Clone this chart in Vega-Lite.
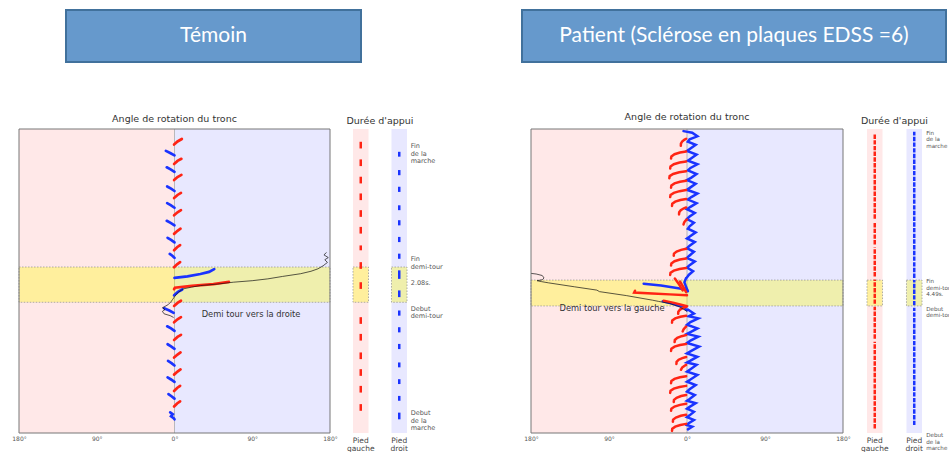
{
"$schema": "https://vega.github.io/schema/vega-lite/v6.json",
"padding": {"left": 11, "top": 9, "right": 0, "bottom": 0},
"background": "white",
"config": {"view": {"stroke": null}, "font": "DejaVu Sans"},
"datasets": {
"bg": [{"f":"G","a":-180,"a2":0,"t":0,"t2":100},{"f":"D","a":0,"a2":180,"t":0,"t2":100}],
"frame": [{"a":-180,"a2":180,"t":0,"t2":100}],
"zero": [{"a":0,"t":0,"t2":100}],
"cols": [{"f":"G","t":0,"t2":100},{"f":"D","t":0,"t2":100}],
"linesL": [
{"s":"r1","f":"G","a":-0.5,"t":94.9},{"s":"r1","f":"G","a":3.5,"t":95.9},{"s":"r1","f":"G","a":8.5,"t":96.7},
{"s":"r2","f":"G","a":-0.5,"t":88.5},{"s":"r2","f":"G","a":3.5,"t":89.5},{"s":"r2","f":"G","a":8,"t":90.2},
{"s":"r3","f":"G","a":-0.5,"t":83.2},{"s":"r3","f":"G","a":3.5,"t":84.2},{"s":"r3","f":"G","a":8,"t":84.9},
{"s":"r4","f":"G","a":-0.5,"t":77.3},{"s":"r4","f":"G","a":3.5,"t":78.3},{"s":"r4","f":"G","a":7.5,"t":79.0},
{"s":"r5","f":"G","a":-0.5,"t":71.6},{"s":"r5","f":"G","a":3.5,"t":72.6},{"s":"r5","f":"G","a":7.5,"t":73.3},
{"s":"r6","f":"G","a":-0.5,"t":65.5},{"s":"r6","f":"G","a":3.5,"t":66.5},{"s":"r6","f":"G","a":7,"t":67.2},
{"s":"r7","f":"G","a":-0.5,"t":60.1},{"s":"r7","f":"G","a":3,"t":61.1},{"s":"r7","f":"G","a":6.5,"t":61.8},
{"s":"r8","f":"G","a":-0.5,"t":54.5},{"s":"r8","f":"G","a":3,"t":55.5},{"s":"r8","f":"G","a":6.5,"t":56.2},
{"s":"r9","f":"G","a":-0.5,"t":47.3},{"s":"r9","f":"G","a":0.5,"t":47.8},{"s":"r9","f":"G","a":20,"t":48.4},{"s":"r9","f":"G","a":45,"t":49.0},{"s":"r9","f":"G","a":63,"t":49.7},
{"s":"r10","f":"G","a":-0.5,"t":41.8},{"s":"r10","f":"G","a":3.5,"t":42.8},{"s":"r10","f":"G","a":7.5,"t":43.5},
{"s":"r11","f":"G","a":-0.5,"t":36.4},{"s":"r11","f":"G","a":3.5,"t":37.4},{"s":"r11","f":"G","a":7.5,"t":38.1},
{"s":"r12","f":"G","a":-0.5,"t":30.6},{"s":"r12","f":"G","a":3.5,"t":31.6},{"s":"r12","f":"G","a":7.5,"t":32.3},
{"s":"r13","f":"G","a":-0.5,"t":24.8},{"s":"r13","f":"G","a":3.5,"t":25.8},{"s":"r13","f":"G","a":7,"t":26.5},
{"s":"r14","f":"G","a":-0.5,"t":19.2},{"s":"r14","f":"G","a":3.5,"t":20.2},{"s":"r14","f":"G","a":7,"t":20.9},
{"s":"r15","f":"G","a":-0.5,"t":13.8},{"s":"r15","f":"G","a":3,"t":14.8},{"s":"r15","f":"G","a":6.5,"t":15.5},
{"s":"r16","f":"G","a":-0.5,"t":8.7},{"s":"r16","f":"G","a":3,"t":9.7},{"s":"r16","f":"G","a":6.5,"t":10.4},
{"s":"b1","f":"D","a":-10,"t":92.8},{"s":"b1","f":"D","a":-5,"t":92.1},{"s":"b1","f":"D","a":0,"t":91.3},
{"s":"b2","f":"D","a":-9,"t":87.4},{"s":"b2","f":"D","a":-4.5,"t":86.7},{"s":"b2","f":"D","a":0,"t":85.9},
{"s":"b3","f":"D","a":-8.5,"t":81.1},{"s":"b3","f":"D","a":-4,"t":80.4},{"s":"b3","f":"D","a":0,"t":79.6},
{"s":"b4","f":"D","a":-8.5,"t":75.6},{"s":"b4","f":"D","a":-4,"t":74.9},{"s":"b4","f":"D","a":0,"t":74.1},
{"s":"b5","f":"D","a":-9,"t":69.8},{"s":"b5","f":"D","a":-4.5,"t":69.1},{"s":"b5","f":"D","a":0,"t":68.3},
{"s":"b6","f":"D","a":-8,"t":64.2},{"s":"b6","f":"D","a":-4,"t":63.5},{"s":"b6","f":"D","a":0,"t":62.7},
{"s":"b7","f":"D","a":-5.5,"t":58.9},{"s":"b7","f":"D","a":-2.5,"t":58.3},{"s":"b7","f":"D","a":0,"t":57.6},
{"s":"b8","f":"D","a":0,"t":51.0},{"s":"b8","f":"D","a":15,"t":51.5},{"s":"b8","f":"D","a":30,"t":52.3},{"s":"b8","f":"D","a":40,"t":53.0},{"s":"b8","f":"D","a":46,"t":53.9},
{"s":"b9","f":"D","a":-0.5,"t":45.3},{"s":"b9","f":"D","a":4,"t":46.4},{"s":"b9","f":"D","a":9,"t":47.2},
{"s":"b10","f":"D","a":-12,"t":41.0},{"s":"b10","f":"D","a":-6,"t":40.3},{"s":"b10","f":"D","a":-1,"t":39.5},
{"s":"b11","f":"D","a":-8.5,"t":35.1},{"s":"b11","f":"D","a":-4,"t":34.4},{"s":"b11","f":"D","a":0,"t":33.6},
{"s":"b12","f":"D","a":-8,"t":29.2},{"s":"b12","f":"D","a":-4,"t":28.5},{"s":"b12","f":"D","a":0,"t":27.7},
{"s":"b13","f":"D","a":-7.5,"t":23.7},{"s":"b13","f":"D","a":-3.5,"t":23.0},{"s":"b13","f":"D","a":0,"t":22.2},
{"s":"b14","f":"D","a":-8,"t":18.3},{"s":"b14","f":"D","a":-4,"t":17.6},{"s":"b14","f":"D","a":0,"t":16.8},
{"s":"b15","f":"D","a":-7,"t":12.8},{"s":"b15","f":"D","a":-3.5,"t":12.1},{"s":"b15","f":"D","a":0,"t":11.3},
{"s":"b16","f":"D","a":-5,"t":6.8},{"s":"b16","f":"D","a":-2,"t":6.2},{"s":"b16","f":"D","a":-4,"t":5.5},{"s":"b16","f":"D","a":-1,"t":4.9},{"s":"b16","f":"D","a":0,"t":4.5}
],
"blackL": [
{"a":-1,"t":38.0},{"a":-5,"t":38.6},{"a":-12,"t":39.2},{"a":-14,"t":40.0},{"a":-11,"t":40.6},{"a":-14,"t":41.2},{"a":-10,"t":41.8},{"a":-7,"t":42.3},{"a":-4,"t":43.2},{"a":-2,"t":44.0},{"a":0,"t":44.8},{"a":2,"t":45.6},{"a":5,"t":46.4},{"a":10,"t":47.4},{"a":20,"t":48.0},{"a":30,"t":48.5},{"a":50,"t":49.0},{"a":68,"t":49.6},{"a":90,"t":50.1},{"a":108,"t":50.7},{"a":125,"t":51.5},{"a":146,"t":52.4},{"a":158,"t":53.2},{"a":166,"t":54.0},{"a":172,"t":55.0},{"a":177,"t":56.1},{"a":174,"t":57.0},{"a":178,"t":57.7},{"a":173,"t":58.6},{"a":176,"t":59.4}
],
"linesR": [
{"s":"B1","f":"D","a":-4,"t":99.3},{"s":"B1","f":"D","a":6,"t":98.8},{"s":"B1","f":"D","a":12,"t":97.6},{"s":"B1","f":"D","a":3,"t":96.6},{"s":"B1","f":"D","a":1,"t":95.8},{"s":"B1","f":"D","a":10,"t":94.8},{"s":"B1","f":"D","a":4,"t":93.6},{"s":"B1","f":"D","a":0,"t":92.8},{"s":"B1","f":"D","a":11,"t":91.6},{"s":"B1","f":"D","a":5,"t":90.4},{"s":"B1","f":"D","a":1,"t":89.6},{"s":"B1","f":"D","a":12,"t":88.4},{"s":"B1","f":"D","a":4,"t":87.2},{"s":"B1","f":"D","a":1,"t":86.4},{"s":"B1","f":"D","a":11,"t":85.2},{"s":"B1","f":"D","a":5,"t":84.0},{"s":"B1","f":"D","a":0,"t":83.2},{"s":"B1","f":"D","a":10,"t":82.0},{"s":"B1","f":"D","a":4,"t":80.8},{"s":"B1","f":"D","a":0,"t":80.0},{"s":"B1","f":"D","a":12,"t":78.8},{"s":"B1","f":"D","a":5,"t":77.6},{"s":"B1","f":"D","a":1,"t":76.8},{"s":"B1","f":"D","a":11,"t":75.6},{"s":"B1","f":"D","a":4,"t":74.4},{"s":"B1","f":"D","a":0,"t":73.6},{"s":"B1","f":"D","a":9,"t":72.4},{"s":"B1","f":"D","a":3,"t":71.2},{"s":"B1","f":"D","a":0,"t":70.4},{"s":"B1","f":"D","a":8,"t":69.2},{"s":"B1","f":"D","a":3,"t":68.0},{"s":"B1","f":"D","a":1,"t":67.2},{"s":"B1","f":"D","a":10,"t":66.0},{"s":"B1","f":"D","a":4,"t":64.8},{"s":"B1","f":"D","a":0,"t":64.0},{"s":"B1","f":"D","a":9,"t":62.8},{"s":"B1","f":"D","a":3,"t":61.6},{"s":"B1","f":"D","a":0,"t":60.8},{"s":"B1","f":"D","a":8,"t":59.6},{"s":"B1","f":"D","a":3,"t":58.4},{"s":"B1","f":"D","a":0,"t":57.6},{"s":"B1","f":"D","a":9,"t":56.4},{"s":"B1","f":"D","a":3,"t":55.2},{"s":"B1","f":"D","a":0,"t":54.4},{"s":"B1","f":"D","a":7,"t":53.2},{"s":"B1","f":"D","a":2,"t":52.0},{"s":"B1","f":"D","a":0,"t":51.2},
{"s":"B2","f":"D","a":-50,"t":49.1},{"s":"B2","f":"D","a":-30,"t":48.5},{"s":"B2","f":"D","a":-10,"t":47.6},{"s":"B2","f":"D","a":0,"t":47.1},
{"s":"B3","f":"D","a":-1,"t":51.0},{"s":"B3","f":"D","a":-3,"t":49.6},{"s":"B3","f":"D","a":-1,"t":48.0},{"s":"B3","f":"D","a":1,"t":46.6},
{"s":"B4","f":"D","a":-28,"t":43.3},{"s":"B4","f":"D","a":-15,"t":42.4},{"s":"B4","f":"D","a":-5,"t":41.5},{"s":"B4","f":"D","a":0,"t":40.4},
{"s":"B5","f":"D","a":1,"t":40.6},{"s":"B5","f":"D","a":8,"t":39.3},{"s":"B5","f":"D","a":2,"t":38.4},{"s":"B5","f":"D","a":13,"t":37.7},{"s":"B5","f":"D","a":4,"t":36.5},{"s":"B5","f":"D","a":0,"t":35.6},{"s":"B5","f":"D","a":12,"t":34.4},{"s":"B5","f":"D","a":4,"t":33.2},{"s":"B5","f":"D","a":0,"t":32.6},{"s":"B5","f":"D","a":13,"t":31.7},{"s":"B5","f":"D","a":4,"t":30.4},{"s":"B5","f":"D","a":0,"t":29.6},{"s":"B5","f":"D","a":14,"t":28.4},{"s":"B5","f":"D","a":5,"t":27.0},{"s":"B5","f":"D","a":0,"t":26.2},{"s":"B5","f":"D","a":12,"t":25.1},{"s":"B5","f":"D","a":4,"t":23.8},{"s":"B5","f":"D","a":0,"t":23.2},{"s":"B5","f":"D","a":11,"t":22.4},{"s":"B5","f":"D","a":4,"t":21.0},{"s":"B5","f":"D","a":0,"t":20.2},{"s":"B5","f":"D","a":12,"t":19.1},{"s":"B5","f":"D","a":4,"t":17.6},{"s":"B5","f":"D","a":0,"t":16.9},{"s":"B5","f":"D","a":10,"t":15.8},{"s":"B5","f":"D","a":3,"t":14.4},{"s":"B5","f":"D","a":0,"t":13.6},{"s":"B5","f":"D","a":9,"t":12.5},{"s":"B5","f":"D","a":3,"t":11.2},{"s":"B5","f":"D","a":0,"t":10.6},{"s":"B5","f":"D","a":10,"t":9.8},{"s":"B5","f":"D","a":3,"t":8.6},{"s":"B5","f":"D","a":0,"t":8.0},{"s":"B5","f":"D","a":8,"t":7.0},{"s":"B5","f":"D","a":3,"t":5.8},{"s":"B5","f":"D","a":0,"t":5.2},{"s":"B5","f":"D","a":8,"t":4.3},{"s":"B5","f":"D","a":2,"t":3.2},{"s":"B5","f":"D","a":0,"t":2.6},{"s":"B5","f":"D","a":6,"t":2.1},{"s":"B5","f":"D","a":1,"t":1.2},
{"s":"h1","f":"G","a":-1,"t":96.8},{"s":"h1","f":"G","a":-3.2,"t":96.45},{"s":"h1","f":"G","a":-5.6,"t":95.9},{"s":"h1","f":"G","a":-7,"t":95.2},{"s":"h1","f":"G","a":-7.1,"t":94.5},
{"s":"h2","f":"G","a":-1,"t":92.6},{"s":"h2","f":"G","a":-8.1,"t":92.25},{"s":"h2","f":"G","a":-14.4,"t":91.7},{"s":"h2","f":"G","a":-18,"t":91.0},{"s":"h2","f":"G","a":-18.4,"t":90.3},
{"s":"h3","f":"G","a":-1,"t":89.3},{"s":"h3","f":"G","a":-8.6,"t":88.95},{"s":"h3","f":"G","a":-15.2,"t":88.4},{"s":"h3","f":"G","a":-19,"t":87.7},{"s":"h3","f":"G","a":-19.4,"t":87.0},
{"s":"h4","f":"G","a":-1,"t":86.1},{"s":"h4","f":"G","a":-9,"t":85.75},{"s":"h4","f":"G","a":-16,"t":85.2},{"s":"h4","f":"G","a":-20,"t":84.5},{"s":"h4","f":"G","a":-20.4,"t":83.8},
{"s":"h5","f":"G","a":-1,"t":83.0},{"s":"h5","f":"G","a":-8.1,"t":82.65},{"s":"h5","f":"G","a":-14.4,"t":82.1},{"s":"h5","f":"G","a":-18,"t":81.4},{"s":"h5","f":"G","a":-18.4,"t":80.7},
{"s":"h6","f":"G","a":-1,"t":79.9},{"s":"h6","f":"G","a":-8.6,"t":79.55},{"s":"h6","f":"G","a":-15.2,"t":79.0},{"s":"h6","f":"G","a":-19,"t":78.3},{"s":"h6","f":"G","a":-19.4,"t":77.6},
{"s":"h7","f":"G","a":-1,"t":77.0},{"s":"h7","f":"G","a":-7.7,"t":76.65},{"s":"h7","f":"G","a":-13.6,"t":76.1},{"s":"h7","f":"G","a":-17,"t":75.4},{"s":"h7","f":"G","a":-17.3,"t":74.7},
{"s":"h8","f":"G","a":-1,"t":74.2},{"s":"h8","f":"G","a":-4.1,"t":73.85},{"s":"h8","f":"G","a":-7.2,"t":73.3},{"s":"h8","f":"G","a":-9,"t":72.6},{"s":"h8","f":"G","a":-9.2,"t":71.9},
{"s":"h9","f":"G","a":0,"t":70.2},{"s":"h9","f":"G","a":-1.8,"t":69.85},{"s":"h9","f":"G","a":-3.2,"t":69.3},{"s":"h9","f":"G","a":-4,"t":68.6},
{"s":"h10","f":"G","a":-1,"t":60.6},{"s":"h10","f":"G","a":-6.8,"t":60.25},{"s":"h10","f":"G","a":-12,"t":59.7},{"s":"h10","f":"G","a":-15,"t":59.0},{"s":"h10","f":"G","a":-15.3,"t":58.3},
{"s":"h11","f":"G","a":-1,"t":57.4},{"s":"h11","f":"G","a":-8.1,"t":57.05},{"s":"h11","f":"G","a":-14.4,"t":56.5},{"s":"h11","f":"G","a":-18,"t":55.8},{"s":"h11","f":"G","a":-18.4,"t":55.1},
{"s":"h12","f":"G","a":-1,"t":54.3},{"s":"h12","f":"G","a":-8.6,"t":53.95},{"s":"h12","f":"G","a":-15.2,"t":53.4},{"s":"h12","f":"G","a":-19,"t":52.7},{"s":"h12","f":"G","a":-19.4,"t":52.0},
{"s":"R9","f":"G","a":-60,"t":46.8},{"s":"R9","f":"G","a":-61,"t":46.2},{"s":"R9","f":"G","a":-40,"t":45.9},{"s":"R9","f":"G","a":-20,"t":45.6},{"s":"R9","f":"G","a":0,"t":45.3},
{"s":"R10","f":"G","a":-14,"t":50.8},{"s":"R10","f":"G","a":-9,"t":48.8},{"s":"R10","f":"G","a":-5,"t":46.9},
{"s":"R11","f":"G","a":-8,"t":49.8},{"s":"R11","f":"G","a":-4,"t":47.9},{"s":"R11","f":"G","a":-1,"t":46.3},
{"s":"R12","f":"G","a":-27,"t":43.5},{"s":"R12","f":"G","a":-15,"t":42.8},{"s":"R12","f":"G","a":0,"t":41.7},
{"s":"h14","f":"G","a":-1,"t":41.5},{"s":"h14","f":"G","a":-4.5,"t":41.15},{"s":"h14","f":"G","a":-8,"t":40.6},{"s":"h14","f":"G","a":-10,"t":39.9},{"s":"h14","f":"G","a":-10.2,"t":39.2},
{"s":"h15","f":"G","a":-1,"t":38.6},{"s":"h15","f":"G","a":-7.7,"t":38.25},{"s":"h15","f":"G","a":-13.6,"t":37.7},{"s":"h15","f":"G","a":-17,"t":37.0},{"s":"h15","f":"G","a":-17.3,"t":36.3},
{"s":"h16","f":"G","a":-1,"t":35.0},{"s":"h16","f":"G","a":-2.3,"t":34.65},{"s":"h16","f":"G","a":-4,"t":34.1},{"s":"h16","f":"G","a":-5,"t":33.4},
{"s":"h17","f":"G","a":-1,"t":32.2},{"s":"h17","f":"G","a":-6.3,"t":31.85},{"s":"h17","f":"G","a":-11.2,"t":31.3},{"s":"h17","f":"G","a":-14,"t":30.6},{"s":"h17","f":"G","a":-14.3,"t":29.9},
{"s":"h18","f":"G","a":-1,"t":29.3},{"s":"h18","f":"G","a":-8.1,"t":28.95},{"s":"h18","f":"G","a":-14.4,"t":28.4},{"s":"h18","f":"G","a":-18,"t":27.7},{"s":"h18","f":"G","a":-18.4,"t":27.0},
{"s":"h19","f":"G","a":-1,"t":25.0},{"s":"h19","f":"G","a":-5.4,"t":24.65},{"s":"h19","f":"G","a":-9.6,"t":24.1},{"s":"h19","f":"G","a":-12,"t":23.4},{"s":"h19","f":"G","a":-12.2,"t":22.7},
{"s":"h20","f":"G","a":-1,"t":22.4},{"s":"h20","f":"G","a":-3.2,"t":22.05},{"s":"h20","f":"G","a":-5.6,"t":21.5},{"s":"h20","f":"G","a":-7,"t":20.8},
{"s":"h21","f":"G","a":-1,"t":18.7},{"s":"h21","f":"G","a":-8.1,"t":18.35},{"s":"h21","f":"G","a":-14.4,"t":17.8},{"s":"h21","f":"G","a":-18,"t":17.1},{"s":"h21","f":"G","a":-18.4,"t":16.4},
{"s":"h22","f":"G","a":-1,"t":15.5},{"s":"h22","f":"G","a":-8.6,"t":15.15},{"s":"h22","f":"G","a":-15.2,"t":14.6},{"s":"h22","f":"G","a":-19,"t":13.9},{"s":"h22","f":"G","a":-19.4,"t":13.2},
{"s":"h23","f":"G","a":-1,"t":12.5},{"s":"h23","f":"G","a":-6.8,"t":12.15},{"s":"h23","f":"G","a":-12,"t":11.6},{"s":"h23","f":"G","a":-15,"t":10.9},{"s":"h23","f":"G","a":-15.3,"t":10.2},
{"s":"h24","f":"G","a":-1,"t":9.6},{"s":"h24","f":"G","a":-8.1,"t":9.25},{"s":"h24","f":"G","a":-14.4,"t":8.7},{"s":"h24","f":"G","a":-18,"t":8.0},{"s":"h24","f":"G","a":-18.4,"t":7.3},
{"s":"h25","f":"G","a":-1,"t":6.0},{"s":"h25","f":"G","a":-7.2,"t":5.65},{"s":"h25","f":"G","a":-12.8,"t":5.1},{"s":"h25","f":"G","a":-16,"t":4.4},{"s":"h25","f":"G","a":-16.3,"t":3.7},
{"s":"h26","f":"G","a":-1,"t":3.0},{"s":"h26","f":"G","a":-7.7,"t":2.65},{"s":"h26","f":"G","a":-13.6,"t":2.1},{"s":"h26","f":"G","a":-17,"t":1.4},{"s":"h26","f":"G","a":-17.3,"t":0.7}
],
"blackR": [
{"a":-180,"t":52.5},{"a":-174,"t":52.3},{"a":-167,"t":51.8},{"a":-165,"t":51.0},{"a":-167,"t":50.4},{"a":-173,"t":50.1},{"a":-168,"t":49.8},{"a":-160,"t":49.4},{"a":-130,"t":48.1},{"a":-104,"t":47.0},{"a":-101,"t":46.5},{"a":-70,"t":45.2},{"a":-40,"t":43.7},{"a":-33,"t":43.3},{"a":-20,"t":42.6},{"a":-8,"t":41.4},{"a":0,"t":40.0}
],
"dashL": [
{"f":"G","t":93.6,"t2":95.8},{"f":"G","t":87.8,"t2":90.0},{"f":"G","t":82.1,"t2":84.3},{"f":"G","t":76.6,"t2":78.8},{"f":"G","t":71.1,"t2":73.3},{"f":"G","t":65.6,"t2":67.8},{"f":"G","t":60.1,"t2":61.7},{"f":"G","t":54.0,"t2":56.2},{"f":"G","t":47.4,"t2":49.6},{"f":"G","t":35.9,"t2":38.1},{"f":"G","t":30.4,"t2":32.6},{"f":"G","t":24.3,"t2":26.5},{"f":"G","t":18.8,"t2":21.0},{"f":"G","t":13.3,"t2":15.5},{"f":"G","t":7.3,"t2":9.5},
{"f":"D","t":90.9,"t2":92.5},{"f":"D","t":84.8,"t2":86.5},{"f":"D","t":79.3,"t2":81.0},{"f":"D","t":73.3,"t2":74.9},{"f":"D","t":68.3,"t2":70.0},{"f":"D","t":62.8,"t2":64.5},{"f":"D","t":57.3,"t2":59.0},{"f":"D","t":50.7,"t2":53.5},{"f":"D","t":44.7,"t2":46.9},{"f":"D","t":38.6,"t2":40.3},{"f":"D","t":33.1,"t2":34.8},{"f":"D","t":27.6,"t2":29.3},{"f":"D","t":21.6,"t2":23.2},{"f":"D","t":16.1,"t2":17.7},{"f":"D","t":10.6,"t2":12.2},{"f":"D","t":4.5,"t2":6.7}
],
"dashR": [
{"f":"G","t":70.5,"t2":98.6},{"f":"G","t":62,"t2":69.5},{"f":"G","t":51.5,"t2":61},{"f":"G","t":42.5,"t2":50.5},{"f":"G","t":31,"t2":41.5},{"f":"G","t":1.5,"t2":30},
{"f":"D","t":51,"t2":99.1},{"f":"D","t":42,"t2":50.3},{"f":"D","t":2.6,"t2":41.2}
],
"annL": [
{"f":"D","t":94.4,"txt":"Fin\nde la\nmarche"},{"f":"D","t":57.1,"txt":"Fin\ndemi-tour"},{"f":"D","t":49.2,"txt":"2.08s."},{"f":"D","t":40.9,"txt":"Debut\ndemi-tour"},{"f":"D","t":6.5,"txt":"Debut\nde la\nmarche"}
],
"annR": [
{"f":"D","t":98.7,"txt":"Fin\nde la\nmarche"},{"f":"D","t":49.9,"txt":"Fin\ndemi-tour"},{"f":"D","t":45.8,"txt":"4.49s."},{"f":"D","t":40.9,"txt":"Debut\ndemi-tour"},{"f":"D","t":-0.7,"txt":"Debut\nde la\nmarche"}
]
},
"bounds": "flush",
"spacing": 119,
"vconcat": [
{
"bounds": "flush",
"spacing": 0,
"hconcat": [
{"width": 47, "height": 52, "data": {"values": [{"t": ""}]}, "mark": {"type": "text"}, "encoding": {"text": {"field": "t"}}},
{"width": 295, "height": 52, "view": {"fill": "#6699cc", "stroke": "#41719c", "strokeWidth": 2}, "data": {"values": [{"t": "Témoin"}]}, "mark": {"type": "text", "font": "Lato", "fontSize": 21, "fill": "white"}, "encoding": {"text": {"field": "t"}}},
{"width": 161, "height": 52, "data": {"values": [{"t": ""}]}, "mark": {"type": "text"}, "encoding": {"text": {"field": "t"}}},
{"width": 424, "height": 52, "view": {"fill": "#6699cc", "stroke": "#41719c", "strokeWidth": 2}, "data": {"values": [{"t": "Patient (Sclérose en plaques EDSS =6)"}]}, "mark": {"type": "text", "font": "Lato", "fontSize": 21, "fill": "white"}, "encoding": {"text": {"field": "t"}}}
]
},
{
"bounds": "flush",
"spacing": 0,
"hconcat": [
{
"width": 311, "height": 304,
"title": {"text": "Angle de rotation du tronc", "fontSize": 9.5, "fontWeight": "normal", "color": "#333", "offset": 5},
"encoding": {
"x": {"field": "a", "type": "quantitative", "scale": {"domain": [-180, 180], "nice": false, "zero": false}, "axis": {"values": [-180, -90, 0, 90, 180], "labelExpr": "abs(datum.value) + '°'", "title": null, "domain": false, "ticks": false, "grid": false, "labelFontSize": 6, "labelColor": "#555", "labelPadding": 2, "labelFlush": false, "labelOverlap": false}},
"y": {"field": "t", "type": "quantitative", "scale": {"domain": [0, 100], "nice": false, "zero": false}, "axis": null}
},
"layer": [
{"data": {"name": "bg"}, "mark": {"type": "rect"}, "encoding": {"x2": {"field": "a2"}, "y2": {"field": "t2"}, "fill": {"field": "f", "type": "nominal", "scale": {"domain": ["G", "D"], "range": ["#ffe8e8", "#e8e8ff"]}, "legend": null}}},
{"data": {"name": "zero"}, "mark": {"type": "rule", "color": "#aaaaaa", "strokeWidth": 0.8}, "encoding": {"y2": {"field": "t2"}}},
{"data": {"values": [{"a": -180, "a2": 180, "t": 43.0, "t2": 54.6}]}, "mark": {"type": "rect", "fill": "#ffff00", "fillOpacity": 0.32, "stroke": "#999999", "strokeWidth": 0.8, "strokeDash": [1.5, 1.5]}, "encoding": {"x2": {"field": "a2"}, "y2": {"field": "t2"}}},
{"data": {"name": "linesL"}, "mark": {"type": "line", "strokeWidth": 2.7, "strokeCap": "round"}, "encoding": {"detail": {"field": "s", "type": "nominal"}, "order": {"field": "t", "type": "quantitative"}, "stroke": {"field": "f", "type": "nominal", "scale": {"domain": ["G", "D"], "range": ["#ff2414", "#1a33ff"]}, "legend": null}}},
{"data": {"name": "blackL"}, "mark": {"type": "line", "color": "#111111", "strokeWidth": 0.7}, "encoding": {"order": {"field": "t", "type": "quantitative"}}},
{"data": {"values": [{"a": 88.6, "t": 38.8, "txt": "Demi tour vers la droite"}]}, "mark": {"type": "text", "fontSize": 8.3, "fill": "#333333"}, "encoding": {"text": {"field": "txt"}}},
{"data": {"name": "frame"}, "mark": {"type": "rect", "fillOpacity": 0, "stroke": "#777777", "strokeWidth": 1}, "encoding": {"x2": {"field": "a2"}, "y2": {"field": "t2"}}}
]
},
{"width": 23, "height": 304, "data": {"values": [{"t": ""}]}, "mark": {"type": "text"}, "encoding": {"text": {"field": "t"}}},
{
"width": 54, "height": 304,
"title": {"text": "Durée d'appui", "fontSize": 9.5, "fontWeight": "normal", "color": "#333", "offset": 4},
"encoding": {
"x": {"field": "f", "type": "nominal", "scale": {"domain": ["G", "D"], "paddingInner": 0.597, "paddingOuter": 0}, "axis": {"title": null, "domain": false, "ticks": false, "labelAngle": 0, "labelFontSize": 7.5, "labelColor": "#444", "labelPadding": 3, "labelLineHeight": 8.5, "labelBaseline": "top", "labelExpr": "datum.value == 'G' ? ['Pied','gauche'] : ['Pied','droit']"}},
"y": {"field": "t", "type": "quantitative", "scale": {"domain": [0, 100], "nice": false, "zero": false}, "axis": null}
},
"layer": [
{"data": {"name": "cols"}, "mark": {"type": "rect"}, "encoding": {"y2": {"field": "t2"}, "fill": {"field": "f", "type": "nominal", "scale": {"domain": ["G", "D"], "range": ["#ffe8e8", "#e8e8ff"]}, "legend": null}}},
{"data": {"values": [{"f": "G", "t": 43.0, "t2": 54.6}, {"f": "D", "t": 43.0, "t2": 54.6}]}, "mark": {"type": "rect", "fill": "#ffff00", "fillOpacity": 0.32, "stroke": "#999999", "strokeWidth": 0.8, "strokeDash": [1.5, 1.5]}, "encoding": {"y2": {"field": "t2"}}},
{"data": {"name": "dashL"}, "mark": {"type": "rule", "strokeWidth": 2.5}, "encoding": {"y2": {"field": "t2"}, "stroke": {"field": "f", "type": "nominal", "scale": {"domain": ["G", "D"], "range": ["#ff2414", "#1a33ff"]}, "legend": null}}},
{"data": {"name": "annL"}, "mark": {"type": "text", "align": "left", "baseline": "middle", "dx": 11.5, "fontSize": 6.5, "fill": "#555555", "lineBreak": "\n", "lineHeight": 7.6}, "encoding": {"text": {"field": "txt"}}}
]
},
{"width": 124, "height": 304, "data": {"values": [{"t": ""}]}, "mark": {"type": "text"}, "encoding": {"text": {"field": "t"}}},
{
"width": 312, "height": 304,
"title": {"text": "Angle de rotation du tronc", "fontSize": 9.5, "fontWeight": "normal", "color": "#333", "offset": 5},
"encoding": {
"x": {"field": "a", "type": "quantitative", "scale": {"domain": [-180, 180], "nice": false, "zero": false}, "axis": {"values": [-180, -90, 0, 90, 180], "labelExpr": "abs(datum.value) + '°'", "title": null, "domain": false, "ticks": false, "grid": false, "labelFontSize": 6, "labelColor": "#555", "labelPadding": 2, "labelFlush": false, "labelOverlap": false}},
"y": {"field": "t", "type": "quantitative", "scale": {"domain": [0, 100], "nice": false, "zero": false}, "axis": null}
},
"layer": [
{"data": {"name": "bg"}, "mark": {"type": "rect"}, "encoding": {"x2": {"field": "a2"}, "y2": {"field": "t2"}, "fill": {"field": "f", "type": "nominal", "scale": {"domain": ["G", "D"], "range": ["#ffe8e8", "#e8e8ff"]}, "legend": null}}},
{"data": {"name": "zero"}, "mark": {"type": "rule", "color": "#aaaaaa", "strokeWidth": 0.8}, "encoding": {"y2": {"field": "t2"}}},
{"data": {"values": [{"a": -180, "a2": 180, "t": 41.8, "t2": 50.3}]}, "mark": {"type": "rect", "fill": "#ffff00", "fillOpacity": 0.32, "stroke": "#999999", "strokeWidth": 0.8, "strokeDash": [1.5, 1.5]}, "encoding": {"x2": {"field": "a2"}, "y2": {"field": "t2"}}},
{"data": {"name": "linesR"}, "mark": {"type": "line", "strokeWidth": 2.5, "strokeCap": "round"}, "encoding": {"detail": {"field": "s", "type": "nominal"}, "order": {"field": "t", "type": "quantitative"}, "stroke": {"field": "f", "type": "nominal", "scale": {"domain": ["G", "D"], "range": ["#ff2414", "#1a33ff"]}, "legend": null}}},
{"data": {"name": "blackR"}, "mark": {"type": "line", "color": "#111111", "strokeWidth": 0.7}, "encoding": {"order": {"field": "t", "type": "quantitative"}}},
{"data": {"values": [{"a": -86.5, "t": 40.8, "txt": "Demi tour vers la gauche"}]}, "mark": {"type": "text", "fontSize": 8.3, "fill": "#333333"}, "encoding": {"text": {"field": "txt"}}},
{"data": {"name": "frame"}, "mark": {"type": "rect", "fillOpacity": 0, "stroke": "#777777", "strokeWidth": 1}, "encoding": {"x2": {"field": "a2"}, "y2": {"field": "t2"}}}
]
},
{"width": 24, "height": 304, "data": {"values": [{"t": ""}]}, "mark": {"type": "text"}, "encoding": {"text": {"field": "t"}}},
{
"width": 55, "height": 304,
"title": {"text": "Durée d'appui", "fontSize": 9.5, "fontWeight": "normal", "color": "#333", "offset": 4},
"encoding": {
"x": {"field": "f", "type": "nominal", "scale": {"domain": ["G", "D"], "paddingInner": 0.607, "paddingOuter": 0}, "axis": {"title": null, "domain": false, "ticks": false, "labelAngle": 0, "labelFontSize": 7.5, "labelColor": "#444", "labelPadding": 3, "labelLineHeight": 8.5, "labelBaseline": "top", "labelExpr": "datum.value == 'G' ? ['Pied','gauche'] : ['Pied','droit']"}},
"y": {"field": "t", "type": "quantitative", "scale": {"domain": [0, 100], "nice": false, "zero": false}, "axis": null}
},
"layer": [
{"data": {"name": "cols"}, "mark": {"type": "rect"}, "encoding": {"y2": {"field": "t2"}, "fill": {"field": "f", "type": "nominal", "scale": {"domain": ["G", "D"], "range": ["#ffe8e8", "#e8e8ff"]}, "legend": null}}},
{"data": {"values": [{"f": "G", "t": 41.8, "t2": 50.3}, {"f": "D", "t": 41.8, "t2": 50.3}]}, "mark": {"type": "rect", "fill": "#ffff00", "fillOpacity": 0.32, "stroke": "#999999", "strokeWidth": 0.8, "strokeDash": [1.5, 1.5]}, "encoding": {"y2": {"field": "t2"}}},
{"data": {"name": "dashR"}, "mark": {"type": "rule", "strokeWidth": 2.5, "strokeDash": [4.4, 1.3]}, "encoding": {"y2": {"field": "t2"}, "stroke": {"field": "f", "type": "nominal", "scale": {"domain": ["G", "D"], "range": ["#ff2414", "#1a33ff"]}, "legend": null}}},
{"data": {"name": "annR"}, "mark": {"type": "text", "align": "left", "baseline": "middle", "dx": 12, "fontSize": 5.6, "fill": "#555555", "lineBreak": "\n", "lineHeight": 6.4}, "encoding": {"text": {"field": "txt"}}}
]
}
]
}
]
}
